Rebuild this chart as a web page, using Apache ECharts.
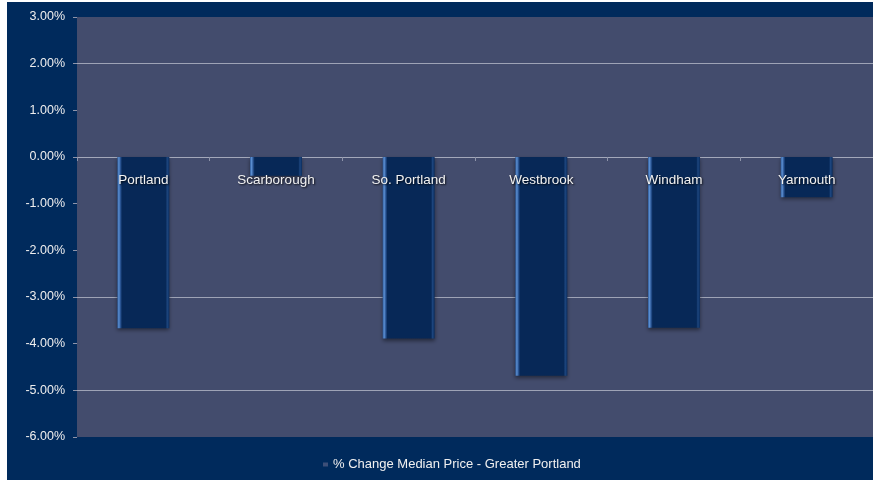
<!DOCTYPE html>
<html>
<head>
<meta charset="utf-8">
<script src="https://cdn.jsdelivr.net/npm/echarts@6/dist/echarts.min.js"></script>
<style>
  html, body { margin: 0; padding: 0; background: #ffffff; }
  #chart { position: absolute; left: 7px; top: 2px; width: 866px; height: 478px; }
</style>
</head>
<body>
<div id="chart"></div>
<script>
// Towns in the Greater Portland area
const towns = ['Portland', 'Scarborough', 'So. Portland', 'Westbrook', 'Windham', 'Yarmouth'];
// Year-over-year % change in median sale price
const pctChange = [-3.67, -0.40, -3.89, -4.69, -3.66, -0.86];
const seriesName = '% Change Median Price - Greater Portland';
// Value axis range (percent)
const yMin = -6;
const yMax = 3;
const yStep = 1;

const gridTop = 15;
const gridBottom = 43;
const chartHeight = 478;
// distance from the top of the plot down to the 0% line, for the town labels
const plotHeight = chartHeight - gridTop - gridBottom;
const zeroFromTop = plotHeight * (yMax - 0) / (yMax - yMin);

const gridColor = '#9ea3b6';
const noLine = 'rgba(0,0,0,0)';

const chart = echarts.init(document.getElementById('chart'));
chart.setOption({
  backgroundColor: '#002a5c',
  animation: false,
  textStyle: { fontFamily: 'Liberation Sans, Arial, sans-serif' },
  grid: {
    left: 70, right: 0, top: gridTop, bottom: gridBottom,
    show: true, backgroundColor: '#434c6d', borderWidth: 0
  },
  legend: {
    left: 311, bottom: 4,
    itemWidth: 5, itemHeight: 4, itemGap: 4,
    textStyle: { color: '#f0f0f0', fontSize: 13 },
    data: [{ name: seriesName, icon: 'rect', itemStyle: { color: '#3d4f78' } }]
  },
  xAxis: [{
    type: 'category',
    data: towns,
    axisLine: { onZero: true, lineStyle: { color: '#a3a8ba', width: 1 } },
    axisTick: { show: true, length: 4, inside: false, lineStyle: { color: '#8e94aa' } },
    axisLabel: { show: false },
    splitLine: { show: false }
  }, {
    // town names, hung just under the 0% line
    type: 'category',
    data: towns,
    position: 'top',
    offset: -zeroFromTop,
    z: 10,
    axisLine: { show: false },
    axisTick: { show: false },
    axisLabel: {
      inside: true,
      color: '#f2f2f2', fontSize: 13.5, margin: 16,
      textShadowColor: 'rgba(0,0,0,0.85)', textShadowBlur: 2,
      textShadowOffsetX: 1, textShadowOffsetY: 1
    },
    splitLine: { show: false }
  }],
  yAxis: {
    type: 'value',
    min: yMin, max: yMax, interval: yStep,
    axisLine: { show: false },
    axisTick: { show: true, length: 4, lineStyle: { color: '#8e94aa' } },
    axisLabel: {
      color: '#eeeeee', fontSize: 12.5, margin: 12,
      formatter: v => v.toFixed(2) + '%'
    },
    splitLine: {
      show: true,
      lineStyle: {
        width: 1,
        color: [noLine, gridColor, noLine, gridColor, noLine, noLine, gridColor, noLine, gridColor, noLine]
      }
    }
  },
  series: [{
    name: seriesName,
    type: 'bar',
    xAxisIndex: 0,
    data: pctChange,
    barWidth: 52,
    itemStyle: {
      color: {
        type: 'linear', x: 0, y: 0, x2: 1, y2: 0,
        colorStops: [
          { offset: 0, color: '#2d5a99' },
          { offset: 0.03, color: '#5b8fd2' },
          { offset: 0.06, color: '#2a5594' },
          { offset: 0.09, color: '#072857' },
          { offset: 0.93, color: '#072857' },
          { offset: 0.96, color: '#1d467f' },
          { offset: 1, color: '#0b2d5e' }
        ]
      },
      shadowColor: 'rgba(0,0,0,0.45)',
      shadowBlur: 4,
      shadowOffsetY: 2
    }
  }]
});
</script>
</body>
</html>
